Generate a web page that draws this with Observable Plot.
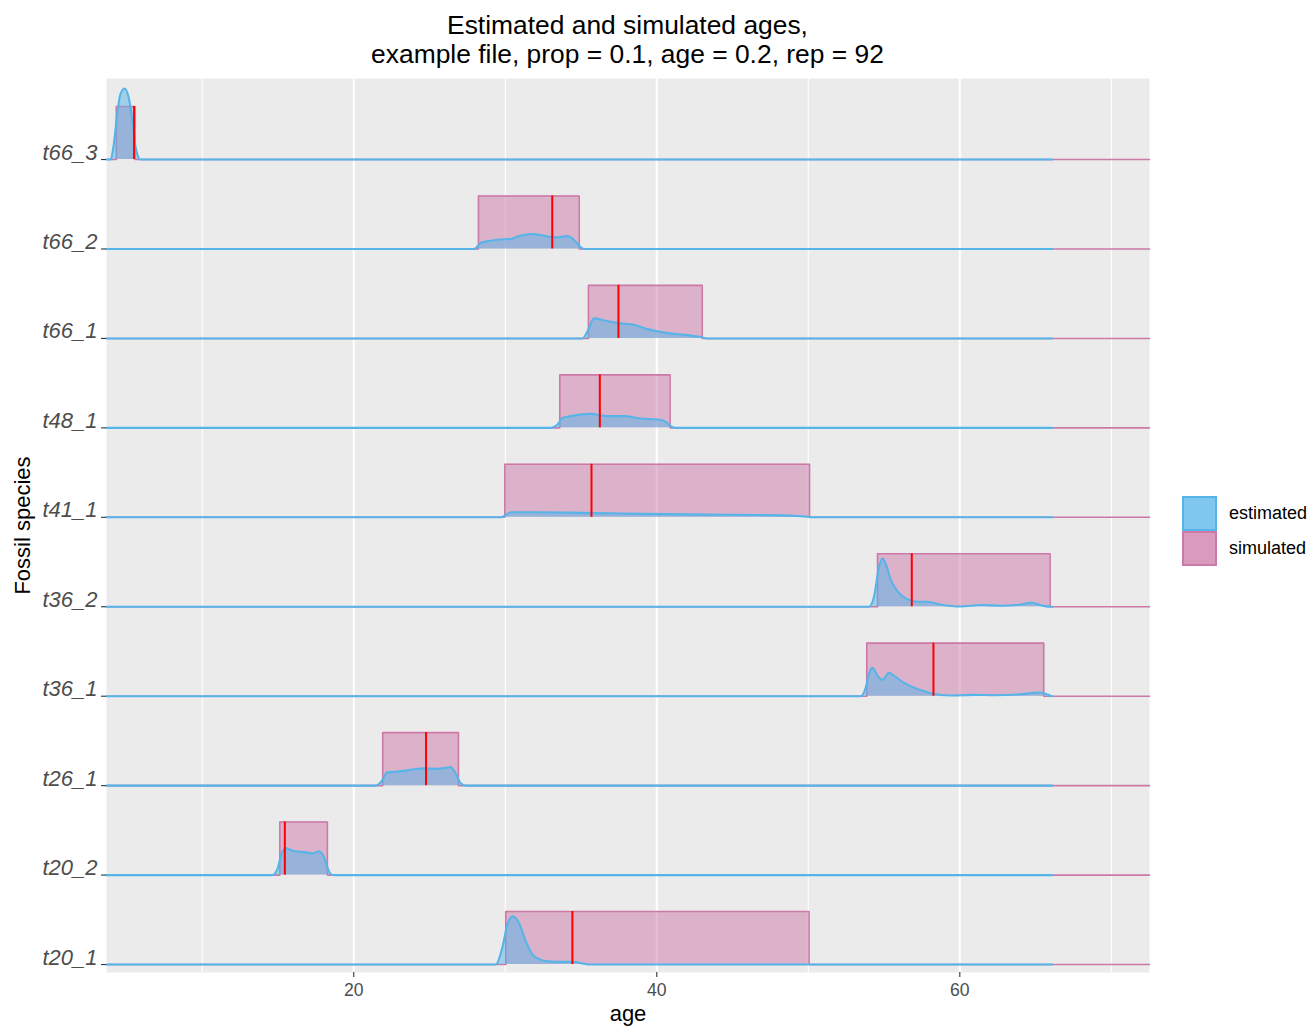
<!DOCTYPE html>
<html>
<head>
<meta charset="utf-8">
<script src="https://cdn.jsdelivr.net/npm/d3@7"></script>
<script src="https://cdn.jsdelivr.net/npm/@observablehq/plot@0.6"></script>
<style>
  body { margin: 0; background: #fff; font-family: "Liberation Sans", Arial, sans-serif; }
  #wrap { position: relative; width: 1312px; height: 1028px; overflow: hidden; }
  #title { position: absolute; left: 106px; width: 1043px; top: 0; height: 78px; box-sizing: border-box;
           padding-top: 11px; text-align: center; font-size: 26.4px; line-height: 29px; color: #000; }
  #chart { position: absolute; left: 0; top: 78px; }
  #legend { position: absolute; left: 1182px; top: 496px; }
  .key { display: flex; align-items: center; height: 35px; }
  .key svg { display: block; }
  .key span { margin-left: 12px; font-size: 18px; color: #000; }
  g[aria-label="y-axis tick label"] text { font-style: italic; }
</style>
</head>
<body>
<div id="wrap">
  <div id="title">Estimated and simulated ages,<br>example file, prop = 0.1, age = 0.2, rep = 92</div>
  <div id="chart"></div>
  <div id="legend"></div>
</div>
<script>
// ---------- data ----------
const species = ["t20_1", "t20_2", "t26_1", "t36_1", "t36_2", "t41_1", "t48_1", "t66_1", "t66_2", "t66_3"];

// simulated age intervals (uniform ridges) and simulated true age (red line)
const simStart = [30.03, 15.12, 21.91, 53.86, 54.57, 29.97, 33.60, 35.49, 28.23, 4.33];
const simEnd   = [50.05, 18.26, 26.91, 65.54, 65.96, 50.08, 40.88, 43.00, 34.88, 5.56];
const simTrue  = [34.43, 15.45, 24.77, 58.26, 56.83, 35.69, 36.24, 37.47, 33.10, 5.50];
const simHeight = 0.593;          // ridge height (in row units)
const simRange = [3.68, 72.52];   // uniform ridge support drawn across the panel
const estRange = [3.68, 66.10];   // estimated density support

// estimated age densities: [age, height in row units]
const est_t20_1 = [[29.37,0],[29.8,0.187],[30.14,0.447],[30.5,0.540],[30.9,0.466],[31.35,0.261],[31.9,0.093],[32.78,0.037],[33.66,0.030],[34.54,0.030],[35.2,0.008],[35.64,0]];
const est_t20_2 = [[14.63,0],[14.96,0.067],[15.23,0.235],[15.51,0.302],[15.95,0.272],[16.72,0.257],[17.27,0.243],[17.71,0.265],[18.04,0.198],[18.26,0.086],[18.48,0.011],[18.7,0]];
const est_t26_1 = [[21.45,0],[21.9,0.064],[22.2,0.149],[22.9,0.157],[23.76,0.176],[24.64,0.193],[25.52,0.187],[26.4,0.205],[26.73,0.138],[27.06,0.026],[27.39,0]];
const est_t36_1 = [[53.47,0],[53.8,0.101],[54.0,0.246],[54.24,0.317],[54.56,0.231],[54.9,0.182],[55.33,0.261],[55.78,0.212],[56.44,0.138],[57.2,0.082],[58.1,0.034],[59.4,0.008],[60.95,0.015],[62.26,0.011],[63.8,0.019],[65.35,0.041],[65.8,0.019],[66.05,0]];
const est_t36_2 = [[54.0,0],[54.34,0.112],[54.67,0.447],[54.9,0.540],[55.1,0.484],[55.45,0.298],[55.9,0.168],[56.43,0.093],[57.2,0.056],[57.86,0.056],[58.7,0.026],[60.07,0.003],[61.4,0.019],[62.7,0.011],[63.8,0.019],[64.7,0.045],[65.35,0.017],[66.0,0]];
const est_t41_1 = [[29.7,0],[30.4,0.056],[32.0,0.056],[35.0,0.050],[38.94,0.039],[43.3,0.030],[46.6,0.026],[48.8,0.019],[49.9,0.008],[50.2,0]];
const est_t48_1 = [[33.0,0],[33.45,0.037],[33.78,0.112],[34.32,0.131],[35.64,0.157],[36.75,0.131],[37.84,0.131],[38.94,0.104],[40.04,0.093],[40.59,0.070],[40.92,0.019],[41.25,0]];
const est_t66_1 = [[35.1,0],[35.42,0.078],[35.86,0.224],[36.52,0.201],[37.4,0.171],[38.5,0.153],[39.39,0.104],[40.7,0.059],[42.03,0.037],[42.9,0.015],[43.35,0]];
const est_t66_2 = [[27.94,0],[28.38,0.067],[28.82,0.086],[29.48,0.104],[30.36,0.112],[30.9,0.145],[31.8,0.168],[32.3,0.157],[33.0,0.134],[33.55,0.131],[34.06,0.145],[34.54,0.101],[34.87,0.039],[35.2,0]];
const est_t66_3 = [[3.96,0],[4.14,0.145],[4.37,0.481],[4.59,0.727],[4.87,0.794],[5.13,0.704],[5.35,0.481],[5.46,0.335],[5.57,0.168],[5.72,0.056],[5.9,0]];
const estimates = [est_t20_1, est_t20_2, est_t26_1, est_t36_1, est_t36_2, est_t41_1, est_t48_1, est_t66_1, est_t66_2, est_t66_3];

// axes
const xLimits = [3.68, 72.52];
const yLimits = [-0.089, 9.906];
const xMajor = [20, 40, 60];
const xMinor = [10, 30, 50, 70];

const legendLabels = ["estimated", "simulated"];
const colors = {estimated: "#56B4E9", simulated: "#CC79A7"};

// ---------- tidy tables ----------
const simData = [];
species.forEach((s, i) => {
  const pts = [[simRange[0], 0], [simStart[i], 0], [simStart[i], simHeight], [simEnd[i], simHeight], [simEnd[i], 0], [simRange[1], 0]];
  pts.forEach(([a, h]) => simData.push({species: s, age: a, base: i, top: i + h}));
});
const estData = [];
species.forEach((s, i) => {
  const pts = [[estRange[0], 0], ...estimates[i], [estRange[1], 0]];
  pts.forEach(([a, h]) => estData.push({species: s, age: a, base: i, top: i + h}));
});
const trueData = species.map((s, i) => ({species: s, age: simTrue[i], base: i, top: i + simHeight}));

// ---------- plot ----------
const chart = Plot.plot({
  width: 1312,
  height: 950,
  marginTop: 0,
  marginBottom: 56,
  marginLeft: 106,
  marginRight: 163,
  x: {domain: xLimits},
  y: {domain: yLimits},
  style: {fontFamily: "Liberation Sans, Arial, sans-serif", background: "transparent", overflow: "visible"},
  marks: [
    Plot.frame({fill: "#EBEBEB", stroke: null}),
    Plot.ruleX(xMinor, {stroke: "white", strokeWidth: 1.1}),
    Plot.ruleX(xMajor, {stroke: "white", strokeWidth: 2.1}),
    Plot.area(simData, {x1: "age", y1: "base", y2: "top", z: "species", fill: colors.simulated, fillOpacity: 0.5}),
    Plot.line(simData, {x: "age", y: "top", z: "species", stroke: colors.simulated, strokeWidth: 1.6}),
    Plot.area(estData, {x1: "age", y1: "base", y2: "top", z: "species", fill: colors.estimated, fillOpacity: 0.5, curve: "monotone-x"}),
    Plot.line(estData, {x: "age", y: "top", z: "species", stroke: colors.estimated, strokeWidth: 2.1, curve: "monotone-x"}),
    Plot.ruleX(trueData, {x: "age", y1: "base", y2: "top", stroke: "#FF0000", strokeWidth: 2}),
    Plot.axisX({ticks: xMajor, tickSize: 5, tickPadding: 6, fontSize: 17.6, fill: "#4D4D4D", stroke: "#333333", strokeWidth: 1.1, label: null}),
    Plot.axisY({ticks: d3.range(species.length), tickFormat: i => species[i], tickSize: 5, tickPadding: 4, lineAnchor: "bottom",
                fontSize: 22, fontStyle: "italic", fill: "#4D4D4D", stroke: "#333333", strokeWidth: 1.1, label: null}),
    Plot.text(["age"], {text: d => d, frameAnchor: "bottom", dy: 48, fontSize: 22, fill: "black"}),
    Plot.text(["Fossil species"], {text: d => d, frameAnchor: "left", textAnchor: "middle", rotate: -90, dx: -84, fontSize: 22, fill: "black"})
  ]
});
document.getElementById("chart").appendChild(chart);

// ---------- legend ----------
const legend = document.getElementById("legend");
legendLabels.forEach(lab => {
  const row = document.createElement("div");
  row.className = "key";
  row.innerHTML = `<svg width="35" height="35"><rect x="1" y="1" width="33" height="33" fill="${colors[lab]}" fill-opacity="0.75" stroke="${colors[lab]}" stroke-width="2"></rect></svg><span>${lab}</span>`;
  legend.appendChild(row);
});
</script>
</body>
</html>
